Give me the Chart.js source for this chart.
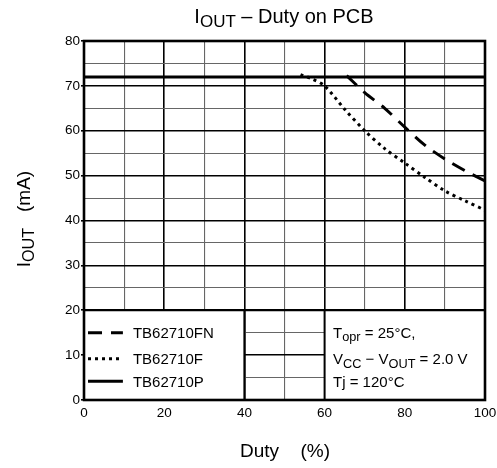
<!DOCTYPE html>
<html>
<head>
<meta charset="utf-8">
<script src="https://cdn.jsdelivr.net/npm/chart.js@4.4.0/dist/chart.umd.min.js"></script>
<style>
  html, body { margin: 0; padding: 0; background: #fff; }
  #wrap { width: 497px; height: 468px; }
</style>
</head>
<body>
<div id="wrap"><canvas id="c" width="497" height="468"></canvas></div>
<script>
// data
const fnDuty = [65.5, 70, 75, 80, 85, 90, 95, 100];
const fnCurrent = [72.3, 68.5, 65.0, 60.8, 56.8, 53.7, 51.1, 48.8];
const fDuty = [54, 57, 60, 65, 70, 75, 80, 85, 90, 95, 100];
const fCurrent = [72.5, 71.5, 70.0, 64.8, 60.0, 56.0, 52.8, 49.6, 46.6, 44.4, 42.3];
const pDuty = [0, 100];
const pCurrent = [72, 72];

const legendNames = ['TB62710FN', 'TB62710F', 'TB62710P'];
const legendRows = [15, 9.2, 4.2];

const FONT = '"Liberation Sans", Arial, sans-serif';

// 文字 + 下付き
function partsWidth(ctx, parts, size) {
    let w = 0;
    parts.forEach(p => {
        ctx.font = (p[1] ? size * 0.85 : size) + 'px ' + FONT;
        w += ctx.measureText(p[0]).width;
    });
    return w;
}

function drawParts(ctx, parts, x, y, size, align) {
    const w = partsWidth(ctx, parts, size);
    let cx = x;
    if (align === 'center') cx = x - w / 2;
    if (align === 'right') cx = x - w;
    ctx.textAlign = 'left';
    ctx.textBaseline = 'alphabetic';
    parts.forEach(p => {
        ctx.font = (p[1] ? size * 0.85 : size) + 'px ' + FONT;
        ctx.fillText(p[0], cx, y + (p[1] ? size * 0.22 : 0));
        cx += ctx.measureText(p[0]).width;
    });
}

const sheetPlugin = {
    id: 'sheet',
    afterDatasetsDraw(chart) {
        const ctx = chart.ctx;
        const xs = chart.scales.x, ys = chart.scales.y;
        const X = v => xs.getPixelForValue(v);
        const Y = v => ys.getPixelForValue(v);
        ctx.save();

        // 凡例ボックス（白抜き）
        ctx.fillStyle = '#fff';
        ctx.fillRect(X(0), Y(20), X(40) - X(0), Y(0) - Y(20));
        ctx.fillRect(X(60), Y(20), X(100) - X(60), Y(0) - Y(20));
        ctx.strokeStyle = '#000';
        ctx.lineWidth = 2;
        ctx.beginPath();
        ctx.moveTo(X(0), Y(20)); ctx.lineTo(X(100), Y(20));
        ctx.moveTo(X(40), Y(20)); ctx.lineTo(X(40), Y(0));
        ctx.moveTo(X(60), Y(20)); ctx.lineTo(X(60), Y(0));
        ctx.stroke();

        // 凡例サンプル線
        const styles = [[14, 9], [3, 4], []];
        legendRows.forEach((r, i) => {
            ctx.setLineDash(styles[i]);
            ctx.lineWidth = 3;
            ctx.beginPath();
            ctx.moveTo(X(1), Y(r));
            ctx.lineTo(X(9.7), Y(r));
            ctx.stroke();
            ctx.setLineDash([]);
            ctx.fillStyle = '#000';
            drawParts(ctx, [[legendNames[i], false]], X(12.2), Y(r) + 5.5, 15, 'left');
        });

        // 条件
        ctx.fillStyle = '#000';
        drawParts(ctx, [['T', false], ['opr', true], [' = 25°C,', false]], X(62.1), Y(legendRows[0]) + 5.5, 15, 'left');
        drawParts(ctx, [['V', false], ['CC', true], [' − V', false], ['OUT', true], [' = 2.0 V', false]], X(62.1), Y(legendRows[1]) + 5.5, 15, 'left');
        drawParts(ctx, [['Tj = 120°C', false]], X(62.1), Y(legendRows[2]) + 5.5, 15, 'left');

        // 外枠
        ctx.lineWidth = 2.6;
        ctx.strokeRect(X(0), Y(80), X(100) - X(0), Y(0) - Y(80));

        // タイトル
        drawParts(ctx, [['I', false], ['OUT', true], [' – Duty on PCB', false]], 284, 23, 20, 'center');

        // x 軸タイトル
        drawParts(ctx, [['Duty', false]], 240, 457, 19, 'left');
        drawParts(ctx, [['(%)', false]], 330, 457, 19, 'right');

        // y 軸タイトル
        ctx.translate(30, 0);
        ctx.rotate(-Math.PI / 2);
        drawParts(ctx, [['(mA)', false]], -212, 0, 19, 'left');
        drawParts(ctx, [['I', false], ['OUT', true]], -228, 0, 19, 'right');
        ctx.restore();
    }
};

new Chart(document.getElementById('c'), {
    type: 'line',
    data: {
        datasets: [
            {
                label: legendNames[0],
                data: fnDuty.map((d, i) => ({ x: d, y: fnCurrent[i] })),
                borderColor: '#000', borderWidth: 3, borderDash: [14, 9],
                pointRadius: 0, tension: 0.3, fill: false
            },
            {
                label: legendNames[1],
                data: fDuty.map((d, i) => ({ x: d, y: fCurrent[i] })),
                borderColor: '#000', borderWidth: 3, borderDash: [3, 4],
                pointRadius: 0, tension: 0.3, fill: false
            },
            {
                label: legendNames[2],
                data: pDuty.map((d, i) => ({ x: d, y: pCurrent[i] })),
                borderColor: '#000', borderWidth: 3,
                pointRadius: 0, fill: false
            }
        ]
    },
    options: {
        responsive: false,
        animation: false,
        devicePixelRatio: 1,
        layout: { padding: { left: 44, right: 12, top: 41, bottom: 46 } },
        plugins: { legend: { display: false }, title: { display: false }, tooltip: { enabled: false } },
        scales: {
            x: {
                type: 'linear', min: 0, max: 100,
                afterFit: s => { s.height = 22; s.paddingLeft = 0; s.paddingRight = 0; },
                border: { display: false },
                grid: {
                    color: c => c.tick.value % 20 === 0 ? '#000' : '#666',
                    lineWidth: c => c.tick.value % 20 === 0 ? 1.6 : 1.1,
                    drawTicks: false
                },
                ticks: {
                    stepSize: 10, padding: 5, color: '#000',
                    font: { family: FONT, size: 13.5 },
                    callback: v => v % 20 === 0 ? v : ''
                }
            },
            y: {
                type: 'linear', min: 0, max: 80,
                afterFit: s => { s.width = 40; },
                border: { display: false },
                grid: {
                    color: c => c.tick.value % 10 === 0 ? '#000' : '#666',
                    lineWidth: c => c.tick.value % 10 === 0 ? 1.6 : 1.1,
                    drawTicks: true, tickLength: 3,
                    tickColor: c => c.tick.value % 10 === 0 ? '#000' : 'rgba(0,0,0,0)'
                },
                ticks: {
                    stepSize: 5, padding: 1, color: '#000',
                    font: { family: FONT, size: 13.5 },
                    callback: v => v % 10 === 0 ? v : ''
                }
            }
        }
    },
    plugins: [sheetPlugin]
});
</script>
</body>
</html>
